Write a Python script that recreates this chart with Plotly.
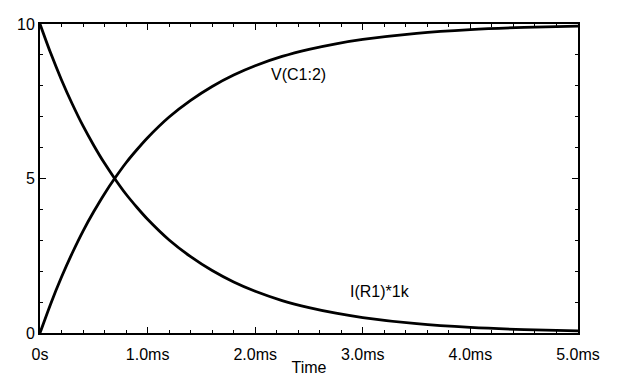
import plotly.graph_objects as go

# time in ms
time_ms = [0, 0.1, 0.2, 0.3, 0.4, 0.5, 0.6, 0.7, 0.8, 0.9, 1.0, 1.2, 1.4, 1.6, 1.8, 2.0,
           2.25, 2.5, 2.75, 3.0, 3.5, 4.0, 4.5, 5.0]
v_c1 = [0, 0.95, 1.81, 2.59, 3.30, 3.93, 4.51, 5.03, 5.51, 5.93, 6.32, 6.99, 7.53, 7.98, 8.35, 8.65,
        8.95, 9.18, 9.36, 9.50, 9.70, 9.82, 9.89, 9.93]
i_r1 = [10, 9.05, 8.19, 7.41, 6.70, 6.07, 5.49, 4.97, 4.49, 4.07, 3.68, 3.01, 2.47, 2.02, 1.65, 1.35,
        1.05, 0.82, 0.64, 0.50, 0.30, 0.18, 0.11, 0.07]

x_tickvals = [0, 1, 2, 3, 4, 5]
x_ticktext = ["0s", "1.0ms", "2.0ms", "3.0ms", "4.0ms", "5.0ms"]
y_tickvals = [0, 5, 10]
y_ticktext = ["0", "5", "10"]

font_family = "Liberation Sans, Arial, sans-serif"

fig = go.Figure()
fig.add_trace(go.Scatter(x=time_ms, y=v_c1, mode="lines",
                         line=dict(color="black", width=2.8, shape="spline", smoothing=0.8),
                         name="V(C1:2)", showlegend=False))
fig.add_trace(go.Scatter(x=time_ms, y=i_r1, mode="lines",
                         line=dict(color="black", width=2.8, shape="spline", smoothing=0.8),
                         name="I(R1)*1k", showlegend=False))

fig.add_annotation(x=2.40, y=8.35, text="V(C1:2)", showarrow=False,
                   font=dict(family=font_family, size=16, color="black"))
fig.add_annotation(x=3.16, y=1.33, text="I(R1)*1k", showarrow=False,
                   font=dict(family=font_family, size=16, color="black"))

fig.update_layout(
    width=614, height=372,
    margin=dict(l=32, r=44, t=16, b=47),
    paper_bgcolor="white", plot_bgcolor="white",
    font=dict(family=font_family, size=16, color="black"),
    xaxis=dict(range=[0, 5], tickvals=x_tickvals, ticktext=x_ticktext, automargin=False,
               showline=True, linecolor="black", linewidth=2, mirror="ticks",
               ticks="inside", ticklen=6, tickcolor="black", showgrid=False, zeroline=False,
               minor=dict(dtick=0.2, tick0=0, ticks="inside", ticklen=3, tickcolor="black", showgrid=False),
               ticklabelstandoff=6,
               title=dict(text="Time", standoff=0, font=dict(size=16)),
               tickfont=dict(size=16)),
    yaxis=dict(range=[0, 10], tickvals=y_tickvals, ticktext=y_ticktext, automargin=False,
               showline=True, linecolor="black", linewidth=2, mirror="ticks",
               ticks="inside", ticklen=6, tickcolor="black", showgrid=False, zeroline=False,
               minor=dict(dtick=1, tick0=0, ticks="inside", ticklen=3, tickcolor="black", showgrid=False),
               tickfont=dict(size=16)),
)

fig.write_html("out.html")
